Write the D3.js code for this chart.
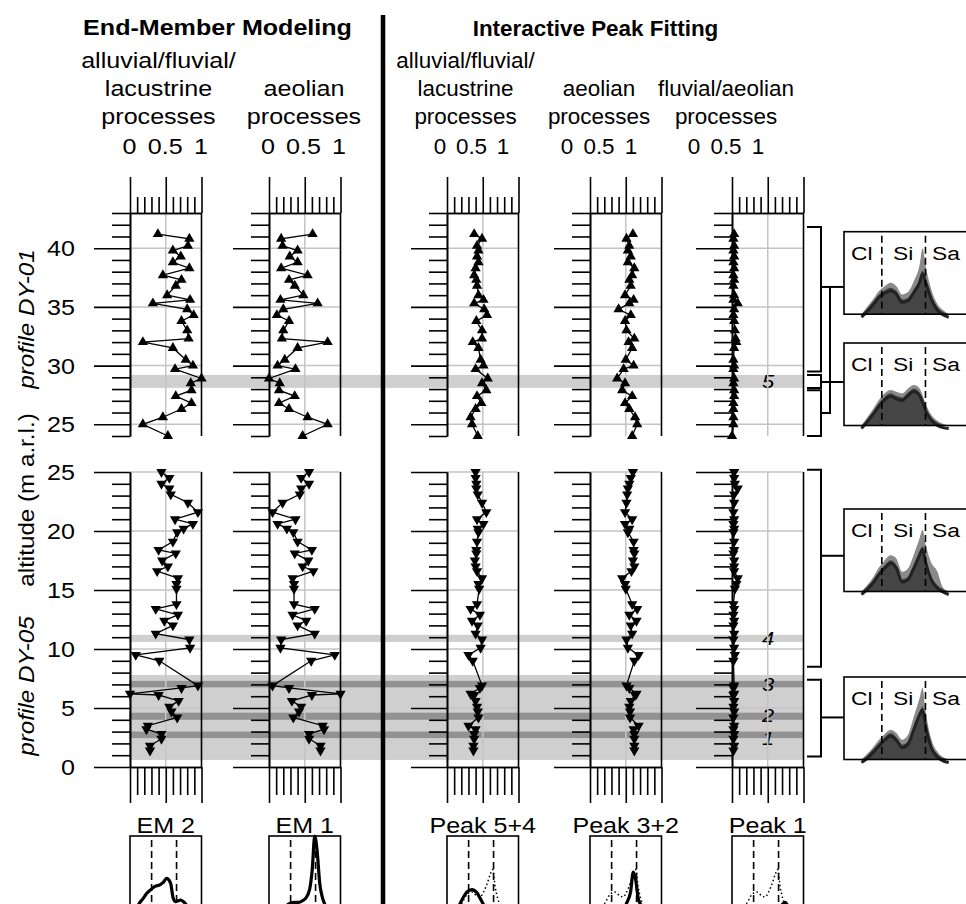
<!DOCTYPE html>
<html>
<head>
<meta charset="utf-8">
<script src="https://cdn.jsdelivr.net/npm/d3@7"></script>
<style>
  body { margin: 0; background: #fff; }
  svg { display: block; font-family: "Liberation Sans", Arial, sans-serif; }
</style>
</head>
<body>
<div id="chart"></div>
<script>
// altitudes of the samples (m a.r.l.)
var altUp = [41.2,40.8,40.2,39.8,39.3,38.8,38.3,37.7,37.3,36.8,36.0,35.6,35.3,34.8,34.3,33.8,33.0,32.3,32.0,31.5,30.5,30.0,29.7,28.9,28.5,27.9,27.4,26.8,26.3,25.6,25.0,24.0];
var altLo = [25.0,24.5,24.0,23.6,23.1,22.4,21.6,21.0,20.6,20.2,19.9,19.1,18.4,18.1,17.5,17.0,16.6,16.0,15.5,15.1,13.8,13.4,12.9,12.4,12.0,11.3,10.8,10.1,9.5,9.0,6.9,6.7,6.2,6.1,5.6,5.1,4.7,4.2,3.5,3.2,2.8,2.4,1.8,1.4];

// profile DY-01
var em2Up = [0.39,0.83,0.81,0.60,0.71,0.60,0.83,0.46,0.72,0.64,0.52,0.84,0.32,0.80,0.89,0.72,0.80,0.82,0.18,0.60,0.78,0.88,0.63,1.00,0.85,0.86,0.64,0.86,0.72,0.46,0.18,0.53];
var em1Up = [0.61,0.17,0.19,0.40,0.29,0.40,0.17,0.54,0.28,0.36,0.48,0.16,0.68,0.20,0.11,0.28,0.20,0.18,0.82,0.40,0.22,0.12,0.37,0.00,0.15,0.14,0.36,0.14,0.28,0.54,0.82,0.47];
var pk1Up = [0.38,0.49,0.42,0.44,0.42,0.44,0.40,0.38,0.41,0.42,0.44,0.51,0.38,0.52,0.56,0.41,0.49,0.49,0.36,0.44,0.47,0.51,0.40,0.57,0.49,0.55,0.42,0.48,0.40,0.33,0.35,0.43];
var pk2Up = [0.60,0.51,0.55,0.53,0.57,0.53,0.62,0.59,0.55,0.57,0.49,0.61,0.55,0.40,0.57,0.49,0.51,0.62,0.54,0.59,0.50,0.61,0.47,0.38,0.49,0.45,0.59,0.49,0.55,0.63,0.66,0.59];
var pk3Up = [0.03,0.02,0.03,0.02,0.03,0.02,0.03,0.02,0.03,0.02,0.03,0.02,0.08,0.03,0.02,0.03,0.04,0.05,0.06,0.03,0.02,0.03,0.02,0.03,0.02,0.03,0.03,0.02,0.02,0.02,0.02,0.00];

// profile DY-05
var em2Lo = [0.44,0.55,0.44,0.55,0.57,0.81,0.95,0.63,0.88,0.75,0.66,0.60,0.40,0.64,0.45,0.53,0.38,0.67,0.65,0.65,0.65,0.36,0.67,0.48,0.60,0.36,0.83,0.84,0.08,0.41,0.95,0.72,0.00,0.40,0.68,0.55,0.58,0.66,0.25,0.23,0.44,0.44,0.28,0.28];
var em1Lo = [0.56,0.45,0.56,0.45,0.43,0.19,0.05,0.37,0.12,0.25,0.34,0.40,0.60,0.36,0.55,0.47,0.62,0.33,0.35,0.35,0.35,0.64,0.33,0.52,0.40,0.64,0.17,0.16,0.92,0.59,0.05,0.28,1.00,0.60,0.32,0.45,0.42,0.34,0.75,0.77,0.56,0.56,0.72,0.72];
var pk1Lo = [0.40,0.40,0.41,0.41,0.43,0.49,0.55,0.42,0.51,0.43,0.44,0.42,0.41,0.41,0.39,0.40,0.42,0.49,0.44,0.45,0.42,0.33,0.46,0.35,0.43,0.40,0.49,0.47,0.30,0.36,0.49,0.46,0.33,0.38,0.40,0.42,0.43,0.44,0.30,0.40,0.38,0.38,0.37,0.37];
var pk2Lo = [0.60,0.57,0.55,0.53,0.52,0.51,0.49,0.59,0.49,0.55,0.53,0.61,0.61,0.62,0.60,0.62,0.58,0.45,0.49,0.50,0.59,0.66,0.55,0.65,0.57,0.59,0.51,0.53,0.68,0.62,0.51,0.55,0.65,0.63,0.57,0.55,0.56,0.56,0.68,0.61,0.62,0.62,0.62,0.62];
var pk3Lo = [0.03,0.03,0.04,0.08,0.03,0.03,0.02,0.03,0.02,0.03,0.02,0.03,0.03,0.02,0.03,0.03,0.03,0.08,0.06,0.04,0.02,0.03,0.02,0.03,0.02,0.03,0.02,0.03,0.04,0.02,0.03,0.02,0.03,0.02,0.03,0.02,0.03,0.02,0.03,0.02,0.03,0.02,0.03,0.02];

// shaded layers 1-5
var bandLow   = [28.1, 10.6, 0.6, 6.75, 4.0, 2.45];
var bandHigh  = [29.2, 11.2, 7.8, 7.3, 4.6, 3.0];
var bandPart  = ["up", "lo", "lo", "lo", "lo", "lo"];
var bandDark  = [false, false, false, true, true, true];
var bandLabel = ["5", "4", "", "3", "2", "1"];

// header texts
var groupTitles = ["End-Member Modeling", "Interactive Peak Fitting"];
var colTitles = [
  ["alluvial/fluvial/", "lacustrine", "processes"],
  ["aeolian", "processes"],
  ["alluvial/fluvial/", "lacustrine", "processes"],
  ["aeolian", "processes"],
  ["fluvial/aeolian", "processes"]
];
var topTicks = [0, 0.5, 1];
var bottomTitles = ["EM 2", "EM 1", "Peak 5+4", "Peak 3+2", "Peak 1"];

// grain-size distributions (log10 of grain size in µm)
var gsLog = [-0.4,-0.2,0,0.2,0.4,0.6,0.8,1.0,1.2,1.4,1.6,1.7,1.8,2.0,2.2,2.4,2.6];
var gsMean = [
  [0,0.07,0.15,0.24,0.29,0.32,0.28,0.18,0.20,0.30,0.42,0.53,0.43,0.22,0.09,0.03,0],
  [0,0.08,0.17,0.27,0.35,0.39,0.36,0.34,0.40,0.45,0.40,0.32,0.22,0.10,0.04,0.01,0],
  [0,0.06,0.14,0.24,0.32,0.38,0.32,0.15,0.18,0.32,0.48,0.55,0.40,0.18,0.08,0.03,0],
  [0,0.05,0.12,0.20,0.27,0.32,0.27,0.18,0.22,0.40,0.58,0.64,0.45,0.18,0.07,0.02,0]
];
var gsMax = [
  [0,0.09,0.18,0.28,0.34,0.38,0.34,0.24,0.27,0.40,0.60,0.80,0.60,0.30,0.13,0.05,0],
  [0,0.10,0.20,0.31,0.39,0.43,0.41,0.39,0.45,0.49,0.45,0.37,0.27,0.13,0.06,0.02,0],
  [0,0.08,0.17,0.29,0.38,0.44,0.40,0.24,0.28,0.45,0.65,0.75,0.58,0.35,0.25,0.05,0],
  [0,0.07,0.15,0.24,0.31,0.36,0.32,0.24,0.30,0.52,0.75,0.87,0.60,0.25,0.10,0.03,0]
];
var gsLabels = ["Cl", "Si", "Sa"];
var gsBounds = [0.3, 1.8];   // 2 µm and 63 µm

// end-member / peak loadings
var emLog = [-0.6,-0.4,-0.2,0,0.2,0.5,0.8,1.0,1.2,1.44,1.6,1.75,1.9,2.05,2.2,2.35,2.6,2.9];
var loadSolid = [
  [0.10,0.17,0.22,0.28,0.32,0.37,0.39,0.42,0.47,0.41,0.22,0.18,0.19,0.20,0.18,0.15,0.07,0.01],
  [0.03,0.06,0.09,0.12,0.15,0.17,0.17,0.19,0.22,0.33,0.58,1.00,0.80,0.41,0.24,0.15,0.06,0.01],
  [0.03,0.08,0.16,0.24,0.30,0.33,0.29,0.22,0.14,0.07,0.04,0.02,0.01,0,0,0,0,0],
  [0,0,0,0,0,0,0.02,0.05,0.16,0.30,0.55,0.45,0.22,0.14,0.06,0.02,0,0],
  [0,0,0,0,0,0,0,0,0,0,0.01,0.04,0.10,0.15,0.17,0.13,0.05,0.01]
];
var loadTotal = [0.04,0.08,0.13,0.20,0.27,0.30,0.25,0.24,0.30,0.42,0.52,0.58,0.36,0.22,0.14,0.08,0.03,0.01];

// dendrogram groups (altitude ranges) and links to the insets
var brUpTop = [41.8, 29.2, 27.9], brUpBot = [29.5, 28.1, 24.0];
var brLoTop = [25.2, 7.4], brLoBot = [8.5, 0.9];
var linkUp = [36.7, 28.6], linkLo = [17.9, 4.2];

// ---- layout ----
var SX = 1.14, SX_R = 1.02;
var panelX = [130, 269, 447, 590, 732], panelW = 71.5;
var hdrCenter = [158.5, 304, 465.5, 599, 726];
var hdrTick = [[129.5, 201], [268, 339], [440, 503], [567, 631], [694, 758]];
var bandLabelDy = [7, 7, 0, 7, 6, 10];
var LIGHT = "#cfcfcf", DARK = "#929292", GRID = "#c4c4c4";

var svg = d3.select("#chart").append("svg")
  .attr("width", 966).attr("height", 904);

var yUp = d3.scaleLinear().domain([24, 43]).range([436, 213]);
var yLo = d3.scaleLinear().domain([0, 25]).range([767, 472]);

function label(sel, x, y, str, o) {
  o = o || {};
  return sel.append("text")
    .attr("transform", "translate(" + x + "," + y + ")" + (o.rot ? " rotate(" + o.rot + ")" : "") + " scale(" + (o.sx || SX) + ",1)")
    .attr("text-anchor", o.anchor || "middle")
    .attr("font-size", o.size || 22)
    .attr("font-weight", o.weight || "normal")
    .attr("font-style", o.style || "normal")
    .text(str);
}

// bands
var bandG = svg.append("g");
bandLow.forEach(function(lo, i) {
  var y = bandPart[i] == "up" ? yUp : yLo;
  bandG.append("rect")
    .attr("x", 129).attr("width", 803 - 129)
    .attr("y", y(bandHigh[i])).attr("height", y(lo) - y(bandHigh[i]))
    .attr("fill", bandDark[i] ? DARK : LIGHT);
  if (bandLabel[i]) {
    label(svg, 768, y((lo + bandHigh[i]) / 2) + bandLabelDy[i], bandLabel[i], {style: "italic", size: 19, sx: 1.15});
  }
});

function styleAxis(g) {
  g.selectAll("line, path").attr("stroke", "#000").attr("stroke-width", 1.6);
}

function drawPanel(i, part, alts, vals) {
  var x = d3.scaleLinear().domain([0, 1]).range([panelX[i], panelX[i] + panelW]);
  var y = part == "up" ? yUp : yLo;
  var d = y.domain();
  var major = d3.range(Math.ceil(d[0] / 5) * 5, d[1] + 0.01, 5);
  var minor = d3.range(Math.ceil(d[0]), d[1] + 0.01, 1).filter(function(v) { return v % 5 != 0; });
  var g = svg.append("g");

  // grid
  g.selectAll(".gh").data(major.filter(function(v) { return v > 0; })).enter().append("line")
    .attr("x1", x(0)).attr("x2", x(1))
    .attr("y1", function(v) { return y(v); }).attr("y2", function(v) { return y(v); })
    .attr("stroke", GRID).attr("stroke-width", 1.5);
  g.append("line").attr("x1", x(0.5)).attr("x2", x(0.5))
    .attr("y1", y.range()[1]).attr("y2", y.range()[0])
    .attr("stroke", GRID).attr("stroke-width", 1.5);

  // y axes
  g.append("g").attr("transform", "translate(" + x(0) + ",0)")
    .call(d3.axisLeft(y).tickValues(minor).tickSize(18).tickSizeOuter(0).tickFormat(""))
    .call(styleAxis);
  g.append("g").attr("transform", "translate(" + x(0) + ",0)")
    .call(d3.axisLeft(y).tickValues(major).tickSize(36).tickSizeOuter(0).tickFormat(""))
    .call(styleAxis);
  if (i == 0) {
    major.forEach(function(v) { label(g, 75, y(v) + 8, v, {anchor: "end"}); });
  }
  g.append("line").attr("x1", x(1)).attr("x2", x(1))
    .attr("y1", y.range()[1]).attr("y2", y.range()[0])
    .attr("stroke", "#000").attr("stroke-width", 1.6);

  // x axes
  var xMinor = d3.range(1, 10).filter(function(v) { return v != 5; }).map(function(v) { return v / 10; });
  if (part == "up") {
    g.append("g").attr("transform", "translate(0," + y.range()[1] + ")")
      .call(d3.axisTop(x).tickValues(xMinor).tickSize(16).tickSizeOuter(0).tickFormat(""))
      .call(styleAxis);
    g.append("g").attr("transform", "translate(0," + y.range()[1] + ")")
      .call(d3.axisTop(x).tickValues(topTicks).tickSize(36).tickSizeOuter(0).tickFormat(""))
      .call(styleAxis);
  } else {
    g.append("g").attr("transform", "translate(0," + y.range()[0] + ")")
      .call(d3.axisBottom(x).tickValues(xMinor).tickSize(28).tickSizeOuter(0).tickFormat(""))
      .call(styleAxis);
    g.append("g").attr("transform", "translate(0," + y.range()[0] + ")")
      .call(d3.axisBottom(x).tickValues(topTicks).tickSize(36).tickSizeOuter(0).tickFormat(""))
      .call(styleAxis);
  }

  // data
  var pts = alts.map(function(a, k) { return [a, vals[k]]; });
  var line = d3.line().x(function(p) { return x(p[1]); }).y(function(p) { return y(p[0]); });
  g.append("path").datum(pts).attr("d", line)
    .attr("fill", "none").attr("stroke", "#000").attr("stroke-width", 1.3);
  g.selectAll(".tri").data(pts).enter().append("path")
    .attr("d", d3.symbol(d3.symbolTriangle, 46))
    .attr("transform", function(p) {
      return "translate(" + x(p[1]) + "," + y(p[0]) + ")" + (part == "lo" ? " rotate(180)" : "");
    })
    .attr("fill", "#000");
}

var seriesUp = [em2Up, em1Up, pk1Up, pk2Up, pk3Up];
var seriesLo = [em2Lo, em1Lo, pk1Lo, pk2Lo, pk3Lo];
panelX.forEach(function(px, i) {
  drawPanel(i, "up", altUp, seriesUp[i]);
  drawPanel(i, "lo", altLo, seriesLo[i]);
});

// headers
label(svg, 217.5, 35, groupTitles[0], {weight: "bold"});
label(svg, 595.5, 36, groupTitles[1], {weight: "bold", sx: SX_R});
colTitles.forEach(function(lines, i) {
  var sx = i < 2 ? SX : SX_R;
  lines.forEach(function(t, k) {
    label(svg, hdrCenter[i], 124 - (lines.length - 1 - k) * 28, t, {sx: sx});
  });
  var hx = d3.scaleLinear().domain([0, 1]).range(hdrTick[i]);
  topTicks.forEach(function(v) { label(svg, hx(v), 154, v, {sx: sx}); });
});

// y label
label(svg, 34, 319, "profile DY-01", {rot: -90, style: "italic", sx: 1.1});
label(svg, 34, 500, "altitude (m a.r.l.)", {rot: -90, sx: 1.1});
label(svg, 34, 686, "profile DY-05", {rot: -90, style: "italic", sx: 1.1});

// separator
svg.append("line").attr("x1", 383).attr("x2", 383).attr("y1", 15).attr("y2", 904)
  .attr("stroke", "#000").attr("stroke-width", 4.5);

// dendrogram
var dg = svg.append("g").attr("fill", "none").attr("stroke", "#000").attr("stroke-width", 2);
function bracket(y0, y1) {
  dg.append("path").attr("d", "M807," + y0 + "H821V" + y1 + "H807");
}
brUpTop.forEach(function(t, i) { bracket(yUp(t), yUp(brUpBot[i])); });
brLoTop.forEach(function(t, i) { bracket(yLo(t), yLo(brLoBot[i])); });
var cMid = (yUp(brUpTop[2]) + yUp(brUpBot[2])) / 2;
dg.append("path").attr("d", "M821," + yUp(linkUp[0]) + "H844");
dg.append("path").attr("d", "M830," + yUp(linkUp[0]) + "V" + cMid + "H821");
dg.append("path").attr("d", "M821," + yUp(linkUp[1]) + "H844");
linkLo.forEach(function(a) { dg.append("path").attr("d", "M821," + yLo(a) + "H844"); });

// grain-size insets
var insetTop = [231.7, 343, 509, 677], insetH = 82.5;
var gx = d3.scaleLinear().domain([-1, 3.2]).range([844, 966.2]);
gsMean.forEach(function(mean, i) {
  var gy = d3.scaleLinear().domain([0, 1]).range([insetTop[i] + insetH, insetTop[i]]);
  var ig = svg.append("g");
  var area = d3.area().curve(d3.curveMonotoneX)
    .x(function(v, k) { return gx(gsLog[k]); }).y0(gy(0)).y1(function(v) { return gy(v); });
  ig.append("path").datum(gsMax[i]).attr("d", area).attr("fill", "#8a8a8a");
  ig.append("path").datum(mean).attr("d", area).attr("fill", "#454545");
  ig.append("path").datum(mean)
    .attr("d", d3.line().curve(d3.curveMonotoneX).x(function(v, k) { return gx(gsLog[k]); }).y(function(v) { return gy(v) + 3; }))
    .attr("fill", "none").attr("stroke", "#222").attr("stroke-width", 3);
  gsBounds.forEach(function(b) {
    ig.append("line").attr("x1", gx(b)).attr("x2", gx(b))
      .attr("y1", insetTop[i] + 4).attr("y2", insetTop[i] + insetH)
      .attr("stroke", "#000").attr("stroke-width", 1.6).attr("stroke-dasharray", "7,4");
  });
  ig.append("rect").attr("x", 844).attr("y", insetTop[i]).attr("width", 140).attr("height", insetH)
    .attr("fill", "none").attr("stroke", "#000").attr("stroke-width", 1.6);
  [851, 893, 932].forEach(function(tx, k) {
    label(ig, tx, insetTop[i] + 28, gsLabels[k], {anchor: "start", size: 19, sx: 1.2});
  });
});

// loading insets at the bottom
var lx0 = d3.scaleLinear().domain([-1, 3.3]).range([0, panelW]);
var ly = d3.scaleLinear().domain([0, 1]).range([916, 836]);
bottomTitles.forEach(function(t, i) {
  var bg = svg.append("g").attr("transform", "translate(" + panelX[i] + ",0)");
  label(svg, panelX[i] + panelW / 2, 833, t);
  gsBounds.forEach(function(b) {
    bg.append("line").attr("x1", lx0(b)).attr("x2", lx0(b)).attr("y1", 840).attr("y2", 916)
      .attr("stroke", "#000").attr("stroke-width", 1.6).attr("stroke-dasharray", "7,4");
  });
  var ln = d3.line().curve(d3.curveMonotoneX)
    .x(function(v, k) { return lx0(emLog[k]); }).y(function(v) { return ly(v); });
  if (i >= 2) {
    bg.append("path").datum(loadTotal).attr("d", ln).attr("fill", "none")
      .attr("stroke", "#000").attr("stroke-width", 1.5).attr("stroke-dasharray", "1.5,2.5");
  }
  bg.append("path").datum(loadSolid[i]).attr("d", ln).attr("fill", "none")
    .attr("stroke", "#000").attr("stroke-width", 3.2);
  bg.append("rect").attr("x", 0).attr("y", 836).attr("width", panelW).attr("height", 80)
    .attr("fill", "none").attr("stroke", "#000").attr("stroke-width", 1.6);
});
</script>
</body>
</html>
